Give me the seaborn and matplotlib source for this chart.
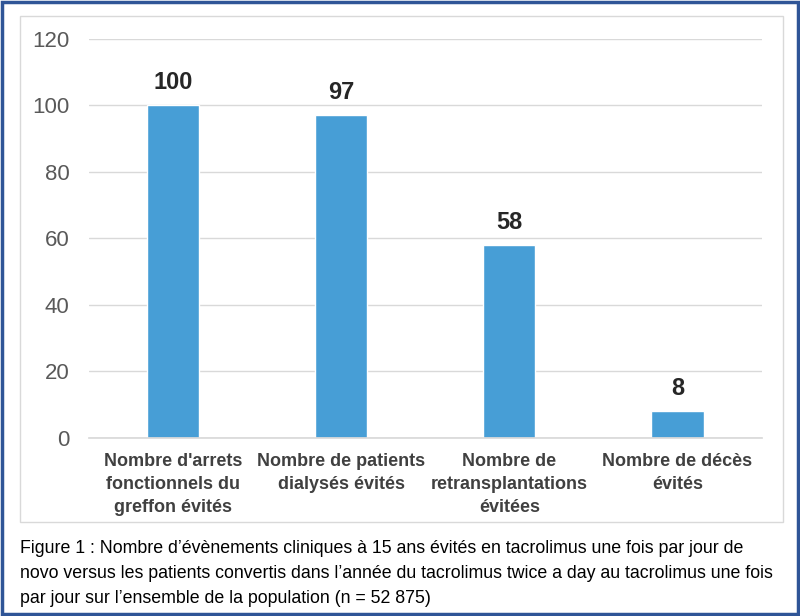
import matplotlib
matplotlib.use("Agg")
import matplotlib.pyplot as plt
from matplotlib.patches import Rectangle
import pandas as pd
import seaborn as sns

categories = [
    "Nombre d'arrets\nfonctionnels du\ngreffon évités",
    "Nombre de patients\ndialysés évités",
    "Nombre de\nretransplantations\névitées",
    "Nombre de décès\névités",
]
values = [100, 97, 58, 8]
yticks = [0, 20, 40, 60, 80, 100, 120]
caption = ("Figure 1 : Nombre d’évènements cliniques à 15 ans évités en tacrolimus une fois par jour de\n"
           "novo versus les patients convertis dans l’année du tacrolimus twice a day au tacrolimus une fois\n"
           "par jour sur l’ensemble de la population (n = 52 875)")

df = pd.DataFrame({"cat": categories, "val": values})

sns.set_theme(style="white")
plt.rcParams['font.family'] = ['Liberation Sans', 'DejaVu Sans']

fig = plt.figure(figsize=(8, 6.16), dpi=100)
ax = fig.add_axes([0.111, 0.289, 0.841, 0.648])

sns.barplot(data=df, x="cat", y="val", color="#479ED6", saturation=1,
            width=0.31, ax=ax)

ax.set_ylim(0, 120)
ax.set_xlim(-0.5, 3.5)
ax.set_yticks(yticks)
ax.yaxis.grid(True, color="#D9D9D9", lw=1)
ax.set_axisbelow(True)
for s in ["top", "right", "left"]:
    ax.spines[s].set_visible(False)
ax.spines["bottom"].set_color("#D9D9D9")
ax.tick_params(axis="y", length=0, labelsize=16, labelcolor="#595959", pad=14)
ax.tick_params(axis="x", length=0, labelsize=13, labelcolor="#404040", pad=11)
for lab in ax.get_xticklabels():
    lab.set_fontweight("bold")
    lab.set_linespacing(1.45)
ax.set_xlabel("")
ax.set_ylabel("")

for i, v in enumerate(values):
    ax.annotate(str(v), (i, v), xytext=(0, 8), textcoords="offset points",
                ha="center", va="bottom", fontsize=17, fontweight="bold",
                color="#262626")

# chart frame and outer border
fig.patches.append(Rectangle((0.025, 0.153), 0.954, 0.821, transform=fig.transFigure,
                             fill=False, edgecolor="#D9D9D9", lw=1))
fig.patches.append(Rectangle((0.002, 0.003), 0.996, 0.994, transform=fig.transFigure,
                             fill=False, edgecolor="#2F5597", lw=2.5))

fig.text(0.025, 0.123, caption, ha="left", va="top", fontsize=12.8,
         color="#000000", linespacing=1.6,
         family=['Liberation Sans Narrow', 'Liberation Sans', 'DejaVu Sans'])

fig.savefig("out.png", dpi=100)
